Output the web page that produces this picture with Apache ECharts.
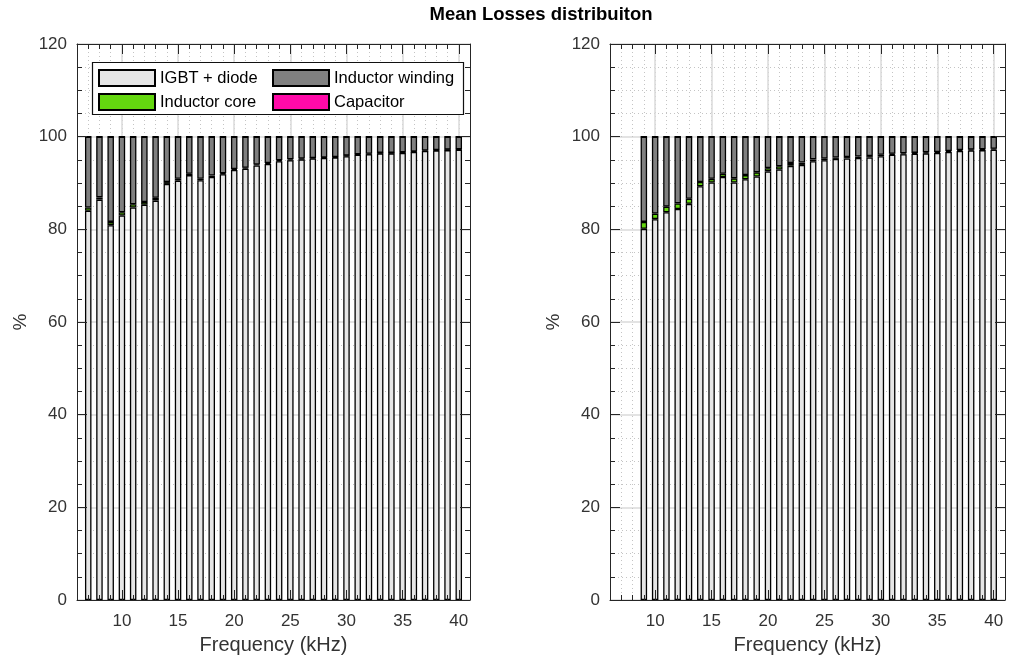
<!DOCTYPE html>
<html>
<head>
<meta charset="utf-8">
<script src="https://cdn.jsdelivr.net/npm/echarts@6/dist/echarts.min.js"></script>
<style>
  html, body { margin: 0; padding: 0; background: #fff; }
  #chart { width: 1011px; height: 659px; }
</style>
</head>
<body>
<div id="chart"></div>
<script>
// Share of the mean losses (%) per switching frequency, two design cases
const freqLeft = [7, 8, 9, 10, 11, 12, 13, 14, 15, 16, 17, 18, 19, 20, 21, 22, 23,
  24, 25, 26, 27, 28, 29, 30, 31, 32, 33, 34, 35, 36, 37, 38, 39, 40];
const igbtLeft = [84.0, 86.4, 80.9, 83.0, 84.7, 85.3, 86.2, 89.8, 90.5, 91.7, 90.6, 91.3, 91.9, 92.8, 93.1, 93.8, 94.1,
  94.7, 94.9, 95.1, 95.3, 95.4, 95.5, 95.8, 96.1, 96.2, 96.4, 96.4, 96.5, 96.7, 96.9, 97.0, 97.1, 97.2];
const coreLeft = [0.7, 0.5, 0.7, 0.7, 0.7, 0.6, 0.6, 0.4, 0.4, 0.3, 0.3, 0.3, 0.2, 0.2, 0.2, 0.2, 0.2,
  0.2, 0.2, 0.2, 0.1, 0.1, 0.1, 0.1, 0.1, 0.1, 0.1, 0.1, 0.1, 0.1, 0.1, 0.1, 0.1, 0.1];
const windingLeft = [15.3, 13.1, 18.4, 16.3, 14.6, 14.1, 13.2, 9.8, 9.1, 8.0, 9.1, 8.4, 7.9, 7.0, 6.7, 6.0, 5.7,
  5.1, 4.9, 4.7, 4.6, 4.5, 4.4, 4.1, 3.8, 3.7, 3.5, 3.5, 3.4, 3.2, 3.0, 2.9, 2.8, 2.7];
const capLeft = [0.03, 0.03, 0.03, 0.03, 0.03, 0.03, 0.03, 0.02, 0.02, 0.02, 0.02, 0.02, 0.02, 0.02, 0.02, 0.02, 0.02,
  0.02, 0.02, 0.02, 0.02, 0.02, 0.02, 0.02, 0.02, 0.02, 0.02, 0.02, 0.02, 0.02, 0.02, 0.02, 0.02, 0.02];

const freqRight = [9, 10, 11, 12, 13, 14, 15, 16, 17, 18, 19, 20, 21, 22, 23,
  24, 25, 26, 27, 28, 29, 30, 31, 32, 33, 34, 35, 36, 37, 38, 39, 40];
const igbtRight = [80.1, 82.2, 83.7, 84.4, 85.5, 89.3, 90.1, 91.3, 90.1, 90.8, 91.4, 92.5, 92.9, 93.7, 93.9,
  94.7, 94.9, 95.2, 95.3, 95.4, 95.5, 95.8, 96.1, 96.2, 96.3, 96.4, 96.5, 96.7, 96.9, 97.0, 97.1, 97.2];
const coreRight = [1.5, 1.2, 1.2, 1.2, 1.1, 0.9, 0.8, 0.7, 0.9, 0.9, 0.9, 0.7, 0.7, 0.6, 0.5,
  0.4, 0.4, 0.3, 0.3, 0.3, 0.3, 0.3, 0.2, 0.2, 0.2, 0.2, 0.2, 0.2, 0.2, 0.2, 0.2, 0.2];
const windingRight = [18.4, 16.6, 15.1, 14.4, 13.4, 9.8, 9.1, 8.0, 9.0, 8.3, 7.7, 6.8, 6.4, 5.7, 5.6,
  4.9, 4.7, 4.5, 4.4, 4.3, 4.2, 3.9, 3.7, 3.6, 3.5, 3.4, 3.3, 3.1, 2.9, 2.8, 2.7, 2.6];
const capRight = [0.03, 0.03, 0.03, 0.03, 0.03, 0.02, 0.02, 0.02, 0.02, 0.02, 0.02, 0.02, 0.02, 0.02, 0.02,
  0.02, 0.02, 0.02, 0.02, 0.02, 0.02, 0.02, 0.02, 0.02, 0.02, 0.02, 0.02, 0.02, 0.02, 0.02, 0.02, 0.02];

// Axis ranges and labelled ticks
const xRange = [6, 41];
const xTickLabels = [10, 15, 20, 25, 30, 35, 40];
const yRange = [0, 120];
const yTickStep = 20;

const seriesNames = ['IGBT + diode', 'Inductor core', 'Inductor winding', 'Capacitor'];
const seriesColors = ['#e6e6e6', '#64d70f', '#808080', '#ff0aa8'];

const AX = '#262626';
const TXT = '#333333';
const FONT = '"Liberation Sans", Arial, Helvetica, sans-serif';
const MAJOR_GRID = '#dadada';
const MINOR_GRID = '#c4c4c4';
const X_PER_GRID = 6;
const Y_PER_GRID = 3;

// One category per kHz across the axis span, bars sit on the category points
const categories = [];
for (let f = xRange[0]; f <= xRange[1]; f++) categories.push(String(f));
const isMajor = (idx, val) => xTickLabels.indexOf(Number(val)) >= 0;

function aligned(freqs, values) {
  const out = categories.map(() => null);
  freqs.forEach((f, i) => { out[categories.indexOf(String(f))] = values[i]; });
  return out;
}

const off = { show: false };

function xAxesFor(g) {
  const base = {
    type: 'category', gridIndex: g, data: categories, boundaryGap: false,
    axisLine: { show: false, onZero: false }, axisTick: off, axisLabel: off, splitLine: off
  };
  const tickLine = { color: AX, width: 1 };
  const line = { show: true, onZero: false, lineStyle: { color: AX, width: 1 } };
  return [
    // grid lines, drawn beneath the bars
    Object.assign({}, base, { position: 'bottom', z: 0,
      splitLine: { show: true, interval: 0, lineStyle: { color: MINOR_GRID, width: 1, type: [1, 3] } } }),
    Object.assign({}, base, { position: 'bottom', z: 0,
      splitLine: { show: true, interval: isMajor, lineStyle: { color: MAJOR_GRID, width: 1.5 } } }),
    // box edges, ticks and labels, drawn over the bars
    Object.assign({}, base, { position: 'bottom', z: 3, axisLine: line,
      axisTick: { show: true, inside: true, length: 5, interval: 0, lineStyle: tickLine },
      axisLabel: { show: true, interval: isMajor, color: TXT, fontSize: 17, fontFamily: FONT, margin: 13 },
      name: 'Frequency (kHz)', nameLocation: 'middle', nameGap: 35,
      nameTextStyle: { color: TXT, fontSize: 20, fontFamily: FONT } }),
    Object.assign({}, base, { position: 'bottom', z: 3,
      axisTick: { show: true, inside: true, length: 10, interval: isMajor, lineStyle: tickLine } }),
    Object.assign({}, base, { position: 'top', z: 3, axisLine: line,
      axisTick: { show: true, inside: true, length: 5, interval: 0, lineStyle: tickLine } }),
    Object.assign({}, base, { position: 'top', z: 3,
      axisTick: { show: true, inside: true, length: 10, interval: isMajor, lineStyle: tickLine } })
  ];
}

function yAxesFor(g) {
  const base = {
    type: 'value', gridIndex: g, min: yRange[0], max: yRange[1], interval: yTickStep,
    axisLine: { show: false, onZero: false }, axisTick: off, axisLabel: off,
    splitLine: off, minorTick: off, minorSplitLine: off
  };
  const ticks = {
    z: 3,
    axisLine: { show: true, onZero: false, lineStyle: { color: AX, width: 1 } },
    axisTick: { show: true, inside: true, length: 10, lineStyle: { color: AX, width: 1 } },
    minorTick: { show: true, splitNumber: 4, length: 5, lineStyle: { color: AX, width: 1 } }
  };
  return [
    // grid lines beneath the bars
    Object.assign({}, base, { position: 'left', z: 0,
      minorTick: { show: false, splitNumber: 4 },
      splitLine: { show: true, lineStyle: { color: MAJOR_GRID, width: 1.5 } },
      minorSplitLine: { show: true, lineStyle: { color: MINOR_GRID, width: 1, type: [1, 3] } } }),
    Object.assign({}, base, ticks, { position: 'left',
      axisLabel: { show: true, color: TXT, fontSize: 17, fontFamily: FONT, margin: 10 },
      name: '%', nameLocation: 'middle', nameGap: 47,
      nameTextStyle: { color: TXT, fontSize: 19, fontFamily: FONT } }),
    Object.assign({}, base, ticks, { position: 'right' })
  ];
}

function stackFor(g, freqs, groups) {
  return groups.map((values, k) => ({
    type: 'bar',
    name: seriesNames[k],
    stack: 'losses' + g,
    xAxisIndex: g * X_PER_GRID,
    yAxisIndex: g * Y_PER_GRID,
    barWidth: 6.5,
    data: aligned(freqs, values),
    itemStyle: { color: seriesColors[k], borderColor: '#000', borderWidth: 1.3 },
    emphasis: { disabled: true },
    z: 2
  }));
}

const legendCommon = {
  orient: 'vertical', itemWidth: 56, itemHeight: 16, itemGap: 6, padding: 0,
  icon: 'rect', selectedMode: false, z: 6,
  textStyle: { color: '#000', fontSize: 16.5, fontFamily: FONT }
};

const option = {
  animation: false,
  backgroundColor: '#fff',
  title: {
    text: 'Mean Losses distribuiton', left: 536, top: 0, textAlign: 'center',
    textStyle: { color: '#000', fontSize: 18.5, fontWeight: 'bold', fontFamily: FONT }
  },
  grid: [
    { left: 77, top: 44, width: 393, height: 556, outerBoundsMode: 'none' },
    { left: 610, top: 44, width: 395, height: 556, outerBoundsMode: 'none' }
  ],
  xAxis: xAxesFor(0).concat(xAxesFor(1)),
  yAxis: yAxesFor(0).concat(yAxesFor(1)),
  legend: [
    Object.assign({}, legendCommon, { left: 98, top: 69, data: [seriesNames[0], seriesNames[1]] }),
    Object.assign({}, legendCommon, { left: 272, top: 69, data: [seriesNames[2], seriesNames[3]] })
  ],
  graphic: [{
    type: 'rect', z: 5,
    shape: { x: 92.5, y: 62.5, width: 371, height: 52 },
    style: { fill: '#fff', stroke: '#111', lineWidth: 1.2 }
  }],
  series: stackFor(0, freqLeft, [igbtLeft, coreLeft, windingLeft, capLeft])
    .concat(stackFor(1, freqRight, [igbtRight, coreRight, windingRight, capRight]))
};

const chart = echarts.init(document.getElementById('chart'), null, { renderer: 'canvas' });
chart.setOption(option);
</script>
</body>
</html>
